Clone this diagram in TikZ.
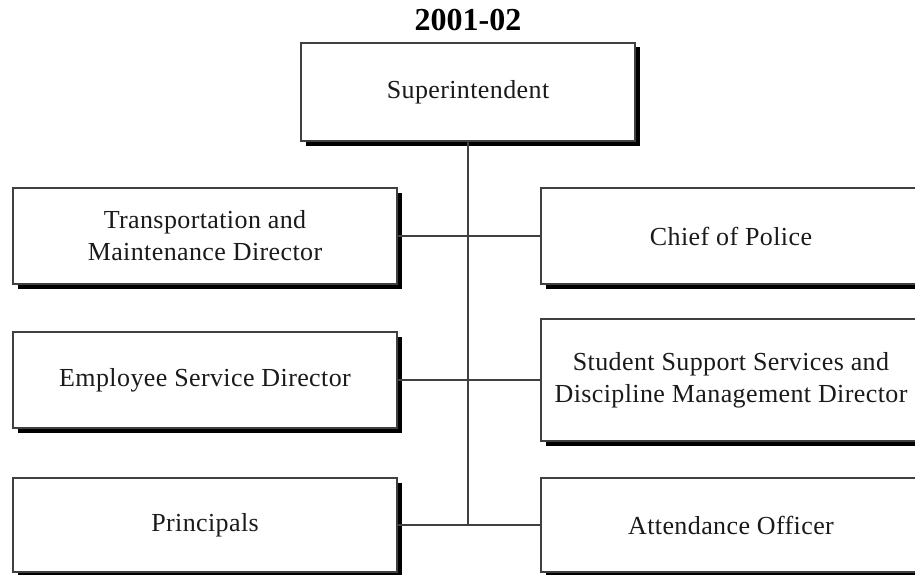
\documentclass[tikz,border=0pt]{standalone}
\usepackage{fontspec}
\setmainfont{Liberation Serif}
\usetikzlibrary{shadows}
\definecolor{EDGE}{HTML}{404040}
\definecolor{INK}{HTML}{1A1A1A}

\begin{document}
\begin{tikzpicture}[
    x=1pt, y=-1pt,
    box/.style={draw=EDGE, line width=1.3pt, fill=white, align=center, inner sep=0pt,
      font=\fontsize{26}{32}\selectfont\addfontfeature{LetterSpace=1.5}, text=INK,
      drop shadow={shadow xshift=4.5pt, shadow yshift=-4.5pt, fill=black, opacity=1}},
    lbox/.style={box, minimum width=384pt},
    rbox/.style={box, minimum width=380pt},
    link/.style={draw=EDGE, line width=1.3pt},
    yearlbl/.style={font=\fontsize{32}{36}\selectfont\bfseries, text=black},
  ]
  \clip (0,0) rectangle (915,575);
  \fill[white] (0,0) rectangle (915,575);

  % title
  \node[yearlbl] (year) at (468,20) {2001-02};

  % top of the chart
  \node[box, minimum width=334pt, minimum height=98pt] (sup) at (468,92) {Superintendent};

  % left column
  \node[lbox, minimum height=96pt] (trans) at (205,236) {Transportation and\\Maintenance Director};
  \node[lbox, minimum height=96pt] (emp) at (205,380) {Employee Service Director};
  \node[lbox, minimum height=94pt] (princ) at (205,525) {Principals};

  % right column
  \node[rbox, minimum height=96pt] (chief) at (731,236) {Chief of Police};
  \node[rbox, minimum height=122pt] (stud) at (731,380) {Student Support Services and\\Discipline Management Director};
  \node[rbox, minimum height=94pt] (att) at (731,525) {Attendance Officer};

  % connectors
  \draw[link] (sup.south) -- (sup.south |- princ.east);
  \draw[link] (trans.east) -- (chief.west);
  \draw[link] (emp.east) -- (stud.west);
  \draw[link] (princ.east) -- (att.west);

\end{tikzpicture}
\end{document}
